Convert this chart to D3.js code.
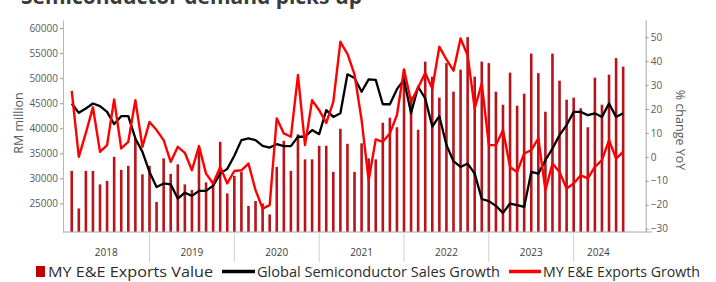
<!DOCTYPE html>
<html><head><meta charset="utf-8">
<script src="https://cdn.jsdelivr.net/npm/d3@7"></script>
<style>
body{margin:0;background:#fff}
svg{display:block;font-family:"Open Sans","Liberation Sans",Arial,sans-serif}
</style>
</head><body><svg id="c" width="716" height="282"></svg>
<script>
// ---- data ----
const months = d3.timeMonth.range(new Date(2018, 1, 1), new Date(2024, 8, 1)); // Feb 2018 .. Aug 2024
const years = ["2018", "2019", "2020", "2021", "2022", "2023", "2024"];
const exportsValue = [
  31500, 24000, 31500, 31500, 28800, 29500, 34300, 31700, 32500, 38000, 30800,
  32500, 25300, 34000, 30900, 32800, 28800, 27700, 36000, 29200, 29000, 37300, 27000,
  30500, 31300, 24500, 25500, 25000, 22800, 32300, 37500, 31500, 38800, 33800, 33800,
  36500, 36500, 31300, 39900, 36900, 31300, 37000, 34000, 33800, 41100, 42100, 40200,
  51700, 46300, 39700, 53300, 50300, 46100, 53000, 47300, 51700, 58200, 50300, 53300,
  53000, 47300, 44700, 51100, 44500, 46900, 54900, 51000, 43300, 54900, 49500, 45700,
  46100, 44000, 40200, 50100, 44700, 50700, 54000, 52300
];
const semiGrowth = [
  22.3, 18.4, 20.2, 22.3, 21.2, 18.8, 13.7, 17.0, 17.0, 7.7, 2.1,
  -6.3, -12.6, -11.1, -11.5, -17.4, -15.0, -16.3, -14.2, -14.2, -12.0, -7.0, -5.0,
  0.5, 7.0, 7.7, 7.0, 4.6, 3.9, 5.3, 4.5, 4.5, 8.4, 8.4, 11.2,
  9.5, 19.5, 16.7, 18.2, 34.5, 33.0, 27.2, 32.4, 32.2, 22.0, 22.0, 28.3,
  32.2, 18.2, 29.3, 24.4, 12.7, 17.0, 5.0, -1.8, -4.2, -2.8, -7.0, -17.6,
  -18.5, -20.5, -23.4, -19.5, -20.2, -20.9, -6.3, -7.0, -1.4, 3.5, 9.1, 13.3,
  18.8, 18.8, 17.4, 18.2, 16.7, 22.3, 16.7, 18.2
];
const eeGrowth = [
  27.6, 0.0, 10.0, 20.7, 2.1, 4.9, 24.0, 3.5, 6.3, 23.7, 4.2,
  14.6, 11.2, 7.0, -2.1, 4.2, 1.7, -5.6, 4.5, -7.0, -11.1, -4.2, -11.1,
  -5.9, -5.6, -2.8, -13.9, -21.6, -20.2, 16.1, 9.8, 8.4, 34.2, 4.9, 23.7,
  19.5, 14.2, 23.0, 48.1, 43.0, 34.5, 15.4, -9.8, 7.3, 6.3, 9.8, 17.5,
  36.5, 23.0, 29.0, 35.0, 28.6, 46.0, 40.7, 36.0, 49.5, 42.5, 20.2, 30.7,
  4.9, 4.9, 11.2, -4.2, -6.3, 1.4, 2.8, 7.7, -13.9, -2.8, -6.3, -13.2,
  -11.1, -7.7, -9.0, -4.2, -1.4, 7.0, -0.7, 2.1
];
const leftTicks = [25000, 30000, 35000, 40000, 45000, 50000, 55000, 60000];
const rightTicks = [-30, -20, -10, 0, 10, 20, 30, 40, 50];
const legendItems = ["MY E&E Exports Value", "Global Semiconductor Sales Growth", "MY E&E Exports Growth"];

// ---- layout ----
const svg = d3.select("#c");
const plot = {left: 63, right: 645.7, top: 20, bottom: 232};
const x = d3.scaleBand().domain(months.map(d => +d)).range([68.2, 626.7]).paddingInner(0);
const bw = x.bandwidth();
const cx = d => x(+d) + bw / 2;
const yL = d3.scaleLinear().domain([19300, 61600]).range([plot.bottom, plot.top]);
const yR = d3.scaleLinear().domain([-31.4, 57.2]).range([plot.bottom, plot.top]);

// title (cropped at top, as in the source image)
svg.append("text").attr("x", 21).attr("y", 3.5)
  .attr("font-size", 21).attr("font-weight", 700).attr("fill", "#3a3a3a")
  .attr("textLength", 341).attr("lengthAdjust", "spacingAndGlyphs")
  .text("Semiconductor demand picks up");

// bars
svg.append("g").selectAll("rect").data(exportsValue).join("rect")
  .attr("x", (d, i) => cx(months[i]) - 1.3)
  .attr("width", 2.6)
  .attr("y", d => yL(d))
  .attr("height", d => plot.bottom - yL(d))
  .attr("fill", "#b8141c");

// lines
const lineGen = arr => d3.line().x((d, i) => cx(months[i])).y(d => yR(d))(arr);
svg.append("path").attr("d", lineGen(semiGrowth)).attr("fill", "none")
  .attr("stroke", "#000").attr("stroke-width", 2.3).attr("stroke-linejoin", "round");
svg.append("path").attr("d", lineGen(eeGrowth)).attr("fill", "none")
  .attr("stroke", "#ff0000").attr("stroke-width", 2.4).attr("stroke-linejoin", "round");

// left axis
const gl = svg.append("g").attr("transform", `translate(${plot.left},0)`)
  .call(d3.axisLeft(yL).tickValues(leftTicks).tickSize(3).tickSizeOuter(0).tickPadding(2).tickFormat(d3.format("d")));
gl.select(".domain").attr("stroke", "#d8a8a8");
gl.selectAll(".tick line").attr("stroke", "#999");
gl.selectAll("text").attr("font-size", 10).attr("fill", "#595959").attr("font-family", "Open Sans");

// right axis
const gr = svg.append("g").attr("transform", `translate(${plot.right},0)`)
  .call(d3.axisRight(yR).tickValues(rightTicks).tickSize(3).tickSizeOuter(0).tickPadding(2));
gr.select(".domain").attr("stroke", "#a6a6a6");
gr.selectAll(".tick line").attr("stroke", "#999");
gr.selectAll("text").attr("font-size", 10).attr("fill", "#595959").attr("font-family", "Open Sans");

// axis titles
svg.append("text").attr("transform", "translate(23,123) rotate(-90)")
  .attr("text-anchor", "middle").attr("font-size", 12.5).attr("fill", "#595959").text("RM million");
svg.append("text").attr("transform", "translate(676,130) rotate(90)")
  .attr("text-anchor", "middle").attr("font-size", 12.5).attr("fill", "#595959").text("% change YoY");

// bottom axis line
svg.append("line").attr("x1", plot.left).attr("x2", 652).attr("y1", plot.bottom).attr("y2", plot.bottom)
  .attr("stroke", "#a6a6a6").attr("stroke-width", 1);

// year separators and labels
const janMonths = months.filter(d => d.getMonth() === 0);
svg.append("g").selectAll("line").data(janMonths).join("line")
  .attr("x1", d => cx(d)).attr("x2", d => cx(d))
  .attr("y1", plot.bottom).attr("y2", 262)
  .attr("stroke", "#d0d0d0").attr("stroke-width", 1);
const bounds = [plot.left, ...janMonths.map(cx), cx(months[months.length - 1])];
svg.append("g").selectAll("text").data(years).join("text")
  .attr("x", (d, i) => (bounds[i] + bounds[i + 1]) / 2)
  .attr("y", 256).attr("text-anchor", "middle")
  .attr("font-size", 10).attr("fill", "#404040").text(d => d);

// legend
const lg = svg.append("g");
const legendText = (xp, len, t) => lg.append("text").attr("x", xp).attr("y", 277)
  .attr("font-size", 15).attr("fill", "#2b2b2b")
  .attr("textLength", len).attr("lengthAdjust", "spacingAndGlyphs").text(t);
lg.append("rect").attr("x", 36).attr("y", 266).attr("width", 9).attr("height", 11).attr("fill", "#c00000");
legendText(48, 165, legendItems[0]);
lg.append("line").attr("x1", 222).attr("x2", 255).attr("y1", 271.5).attr("y2", 271.5).attr("stroke", "#000").attr("stroke-width", 3.5);
legendText(257, 243, legendItems[1]);
lg.append("line").attr("x1", 509).attr("x2", 541).attr("y1", 271.5).attr("y2", 271.5).attr("stroke", "#ff0000").attr("stroke-width", 3.5);
legendText(543, 157, legendItems[2]);
</script>
</body></html>
